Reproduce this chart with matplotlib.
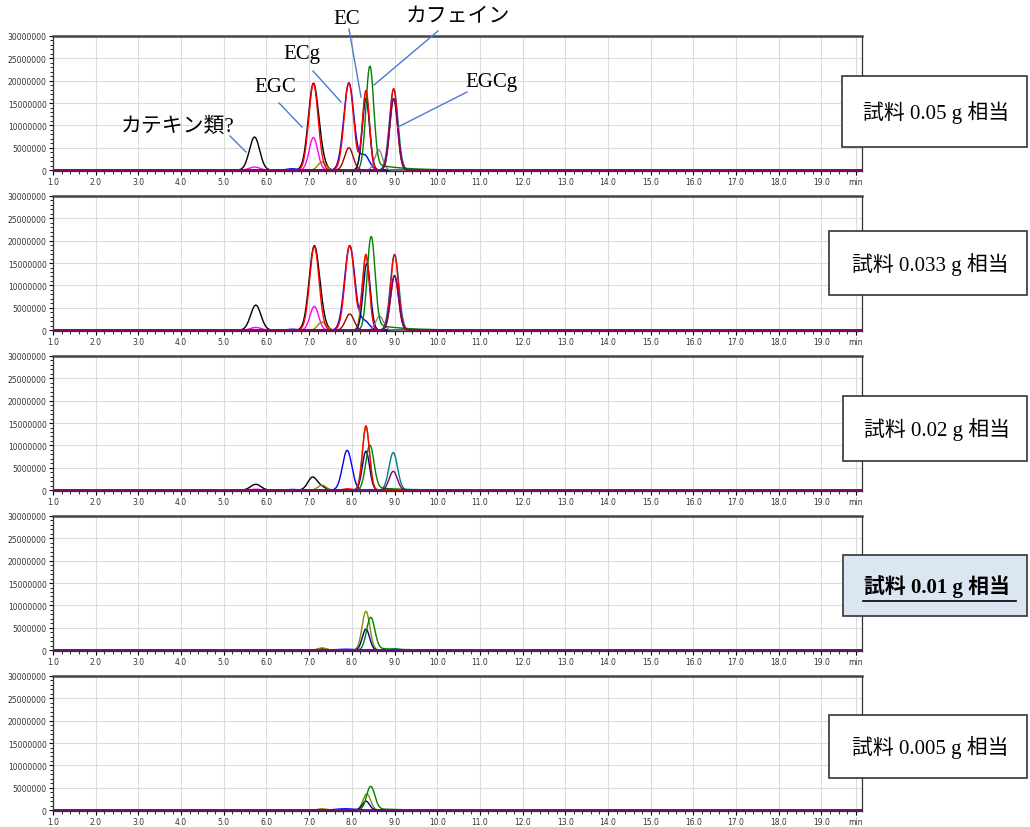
import numpy as np
import matplotlib.pyplot as plt
from matplotlib.ticker import MultipleLocator
from matplotlib.patches import Rectangle
from matplotlib.lines import Line2D

W, H = 1030, 828
serif = ['Liberation Serif', 'Noto Sans CJK JP']

colors = {
    'black': '#000000', 'magenta': '#ff00ff', 'red': '#ff0000', 'blue': '#0000ff',
    'darkred': '#a00000', 'olive': '#8a8a00', 'navy': '#000080', 'gray': '#8c8c8c',
    'teal': '#008080', 'purple': '#800080', 'green': '#008000',
}
draw_order = ['black', 'magenta', 'blue', 'olive', 'navy', 'gray', 'teal',
              'green', 'darkred', 'red', 'purple']

sample_labels = ['試料 0.05 g 相当', '試料 0.033 g 相当', '試料 0.02 g 相当',
                 '試料 0.01 g 相当', '試料 0.005 g 相当']

# peaks: (channel, retention time [min], height, width [min])
peaks_005 = [
    ('black', 5.72, 7.4e6, 0.12), ('black', 7.10, 19.3e6, 0.12), ('black', 7.30, 1.3e6, 0.095),
    ('magenta', 5.72, 0.7e6, 0.12), ('magenta', 7.10, 7.3e6, 0.1),
    ('red', 7.10, 19.3e6, 0.11), ('red', 7.93, 19.5e6, 0.11), ('red', 8.33, 17.8e6, 0.08),
    ('red', 8.98, 18.2e6, 0.09),
    ('blue', 6.60, 0.3e6, 0.12), ('blue', 7.93, 19.5e6, 0.12), ('blue', 8.30, 3.3e6, 0.11),
    ('darkred', 7.93, 5.0e6, 0.1), ('darkred', 8.98, 16.0e6, 0.09),
    ('olive', 7.30, 1.8e6, 0.095), ('olive', 8.33, 17.3e6, 0.085),
    ('navy', 8.33, 16.0e6, 0.085),
    ('green', 8.42, 23.2e6, 0.09),
    ('gray', 8.63, 4.5e6, 0.09),
    ('teal', 8.98, 18.2e6, 0.1),
    ('purple', 8.98, 16.0e6, 0.095),
]
peaks_0033 = [
    ('black', 5.75, 5.6e6, 0.12), ('black', 7.12, 18.7e6, 0.12), ('black', 7.30, 1.2e6, 0.095),
    ('magenta', 5.75, 0.6e6, 0.12), ('magenta', 7.12, 5.3e6, 0.1),
    ('red', 7.12, 18.7e6, 0.11), ('red', 7.95, 18.9e6, 0.11), ('red', 8.33, 16.9e6, 0.08),
    ('red', 9.00, 16.9e6, 0.09),
    ('blue', 6.60, 0.2e6, 0.12), ('blue', 7.95, 18.9e6, 0.12), ('blue', 8.30, 2.0e6, 0.11),
    ('darkred', 7.95, 3.6e6, 0.1), ('darkred', 9.00, 12.2e6, 0.09),
    ('olive', 7.30, 1.8e6, 0.095), ('olive', 8.33, 16.5e6, 0.085),
    ('navy', 8.35, 14.9e6, 0.085),
    ('green', 8.45, 20.9e6, 0.09),
    ('gray', 8.65, 3.1e6, 0.09),
    ('teal', 9.00, 16.9e6, 0.1),
    ('purple', 9.00, 12.2e6, 0.095),
]
peaks_002 = [
    ('black', 5.75, 1.3e6, 0.12), ('black', 7.08, 2.9e6, 0.11), ('black', 7.30, 0.6e6, 0.095),
    ('magenta', 5.75, 0.2e6, 0.12),
    ('red', 7.90, 0.3e6, 0.095), ('red', 8.33, 14.4e6, 0.08),
    ('blue', 6.60, 0.15e6, 0.12), ('blue', 7.89, 8.9e6, 0.11),
    ('olive', 7.30, 1.1e6, 0.095), ('olive', 8.33, 14.0e6, 0.085),
    ('navy', 8.33, 8.7e6, 0.085),
    ('green', 8.42, 10.0e6, 0.095),
    ('teal', 8.97, 8.4e6, 0.1),
    ('purple', 8.97, 4.2e6, 0.095),
]
peaks_001 = [
    ('black', 7.30, 0.3e6, 0.095),
    ('olive', 7.30, 0.5e6, 0.095), ('olive', 8.33, 8.7e6, 0.09),
    ('blue', 7.85, 0.2e6, 0.22),
    ('navy', 8.33, 4.7e6, 0.085),
    ('green', 8.44, 7.3e6, 0.095),
    ('teal', 9.00, 0.3e6, 0.1),
]
peaks_0005 = [
    ('olive', 7.30, 0.3e6, 0.095), ('olive', 8.35, 3.6e6, 0.09),
    ('blue', 7.85, 0.3e6, 0.22),
    ('navy', 8.33, 2.0e6, 0.085),
    ('green', 8.44, 5.3e6, 0.095),
]
panel_peaks = [peaks_005, peaks_0033, peaks_002, peaks_001, peaks_0005]

x_ticks = [float(v) for v in range(1, 20)]
y_ticks = [0, 5000000, 10000000, 15000000, 20000000, 25000000, 30000000]

panel_tops = [37, 197, 357, 517, 677]
boxes = [(842, 77, 1027, 148), (829, 232, 1027, 296), (843, 397, 1027, 462),
         (843, 556, 1027, 617), (829, 716, 1027, 779)]

t = np.linspace(1.0, 20.0, 4000)


def trace(peaks, ch):
    y = np.zeros_like(t)
    for c, rt, h, s in peaks:
        if c != ch:
            continue
        y += h * np.exp(-0.5 * ((t - rt) / s) ** 2)
        if c == 'green':
            d = np.clip(t - rt, 0, None)
            y += 0.07 * h * (1 - np.exp(-d / 0.1)) * np.exp(-d / 0.6)
    return y


fig = plt.figure(figsize=(W / 100, H / 100), dpi=100)

for i, peaks in enumerate(panel_peaks):
    top = panel_tops[i]
    ax = fig.add_axes([53 / W, 1 - (top + 135) / H, 809 / W, 135 / H])
    for ch in draw_order:
        if any(p[0] == ch for p in peaks) or ch == 'purple':
            ax.plot(t, trace(peaks, ch), color=colors[ch], lw=1.0,
                    solid_joinstyle='round')
    ax.set_xlim(1.0, 19.95)
    ax.set_ylim(-2e5, 30e6)
    ax.set_xticks(x_ticks + [19.8])
    ax.set_xticklabels(['%.1f' % v for v in x_ticks] + ['min'])
    ax.set_yticks(y_ticks)
    ax.set_yticklabels([str(v) for v in y_ticks])
    ax.xaxis.set_minor_locator(MultipleLocator(0.2))
    ax.yaxis.set_minor_locator(MultipleLocator(1e6))
    ax.tick_params(labelsize=5.5, labelcolor='#333333', length=3, width=0.8, pad=1.5)
    ax.tick_params(which='minor', length=2, width=0.6)
    ax.grid(True, color='#dcdcdc', lw=0.8)
    ax.set_axisbelow(True)
    for sp in ax.spines.values():
        sp.set_color('#333333')
        sp.set_linewidth(0.9)
    ax.spines['top'].set_linewidth(1.8)
    ax.spines['top'].set_color('#444444')

    x0, y0, x1, y1 = boxes[i]
    hl = (i == 3)
    fig.add_artist(Rectangle((x0 / W, 1 - y1 / H), (x1 - x0) / W, (y1 - y0) / H,
                             transform=fig.transFigure,
                             fc='#dce6f2' if hl else 'white', ec='#333333', lw=1.2))
    fig.text((x0 + x1) / 2 / W + 0.002, 1 - (y0 + y1) / 2 / H, sample_labels[i],
             ha='center', va='center', fontsize=15, family=serif,
             fontweight='bold' if hl else 'normal')
    if hl:
        fig.add_artist(Line2D([863 / W, 1016 / W], [1 - 602 / H, 1 - 602 / H],
                              transform=fig.transFigure, color='black', lw=1.2))

# compound annotations on top panel (figure pixels)
annotations = [
    ('カテキン類?', 178, 127, (230, 137), (246, 153)),
    ('EGC', 275, 88, (279, 104), (302, 128)),
    ('ECg', 302, 55, (313, 72), (341, 103)),
    ('EC', 347, 20, (349, 30), (361, 98)),
    ('カフェイン', 458, 18, (438, 32), (374, 86)),
    ('EGCg', 491, 83, (467, 93), (398, 128)),
]
for txt, tx, ty, p0, p1 in annotations:
    fig.text(tx / W, 1 - ty / H, txt, ha='center', va='center', fontsize=15, family=serif)
    fig.add_artist(Line2D([p0[0] / W, p1[0] / W], [1 - p0[1] / H, 1 - p1[1] / H],
                          transform=fig.transFigure, color='#4a7bd0', lw=1.0))

fig.savefig('out.png', dpi=100)
